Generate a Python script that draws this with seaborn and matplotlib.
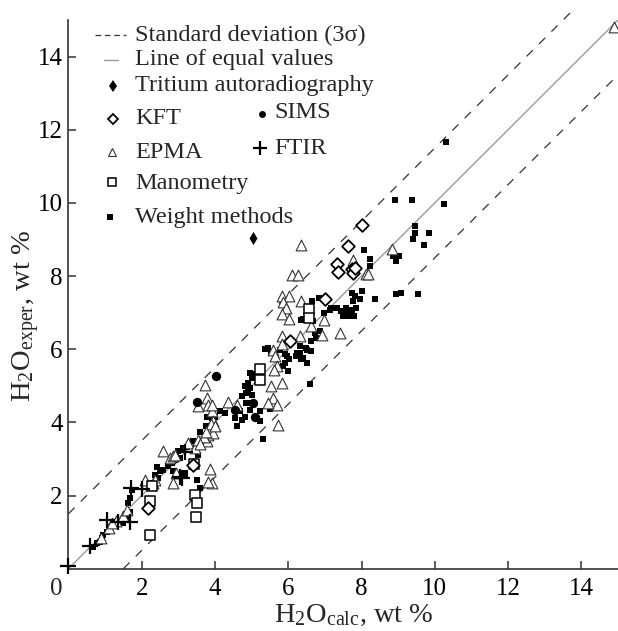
import numpy as np
import pandas as pd
import matplotlib
matplotlib.use("Agg")
import matplotlib.pyplot as plt
import seaborn as sns
from matplotlib.lines import Line2D

# ---------------- data ----------------
wm_x = [10.31, 8.91, 9.37, 10.26, 9.45, 9.45, 9.84, 9.41, 9.71, 8.06, 8.22, 8.24, 8.86, 9.02, 8.95,
        8.95, 9.09, 9.53, 8.38, 7.73, 7.82, 8.0, 7.97, 7.77, 7.84, 7.73, 7.79, 7.71,
        7.18, 7.32, 7.45, 7.59, 7.50, 7.68, 7.63, 6.66, 6.83, 6.39, 6.98, 7.13, 6.36, 6.50, 6.68, 7.54,
        6.73, 6.77, 6.63, 6.48, 6.32, 6.41, 6.21, 5.97, 5.91, 6.03, 5.86, 6.52, 5.98, 6.59, 5.45, 5.54,
        5.77, 5.91, 6.23, 6.32, 6.50, 6.86, 6.36, 6.63, 5.68,
        4.73, 4.86, 5.0, 4.86, 4.68, 4.82, 4.95, 4.54, 5.23, 5.50, 5.68, 4.73, 4.13, 4.27, 4.0, 3.91,
        3.77, 5.0, 5.23, 5.32, 4.59, 4.91, 5.0, 5.09, 4.95, 4.95, 4.82, 4.91, 5.36,
        2.41, 2.50, 2.36, 2.45, 2.32, 1.73, 1.68, 1.63, 1.68, 1.63, 1.59, 1.50, 1.13, 1.04, 0.95, 0.91,
        0.86, 0.77, 0.68, 2.59, 2.72, 2.82, 2.91, 2.95, 3.04, 3.0, 3.13, 3.23, 3.54, 3.50, 3.59, 3.18,
        2.86, 3.40, 3.60, 3.75]
wm_y = [11.66, 10.07, 10.07, 9.97, 9.37, 9.18, 9.18, 9.0, 8.86, 8.72, 8.46, 8.27, 8.55, 8.55, 8.42,
        7.52, 7.54, 7.50, 7.36, 7.54, 7.45, 7.59, 7.38, 7.32, 7.12, 7.07, 6.92, 6.90,
        7.13, 7.13, 7.04, 7.13, 6.92, 7.04, 6.90, 7.32, 7.41, 6.83, 7.0, 7.08, 6.81, 6.92, 6.77, 6.95,
        6.45, 6.31, 6.22, 6.04, 5.90, 5.76, 5.82, 5.81, 5.63, 5.72, 5.53, 5.63, 5.40, 5.06, 6.04, 5.90,
        5.99, 5.87, 5.90, 6.08, 5.99, 6.49, 5.72, 5.95, 5.49,
        4.71, 4.80, 4.76, 4.53, 4.30, 4.16, 4.34, 4.12, 4.30, 4.37, 4.39, 4.07, 4.30, 4.26, 4.16, 4.12,
        4.16, 4.53, 4.03, 3.55, 3.91, 5.08, 5.22, 5.31, 5.35, 4.94, 4.99, 4.85, 6.01,
        2.79, 2.66, 2.57, 2.48, 2.34, 2.16, 1.93, 1.79, 1.56, 1.47, 1.33, 1.24, 1.15, 1.01, 0.92, 0.83,
        0.74, 0.70, 0.60, 2.71, 2.80, 2.89, 2.98, 3.12, 3.02, 3.21, 3.30, 3.34, 3.12, 2.43, 2.20, 2.61,
        2.66, 3.50, 3.75, 3.90]

ep_x = [14.9, 6.35, 6.09, 6.27, 5.82, 6.02, 5.86, 5.93, 5.82, 6.02, 6.36, 6.97, 7.41, 7.77, 8.11, 8.82, 8.18,
        6.63, 6.91, 5.82, 5.84, 5.59, 5.63, 5.70, 5.61, 5.82, 5.54, 6.32,
        3.73, 3.77, 3.81, 4.36, 4.59, 5.59, 5.68, 5.45, 5.72, 3.91, 3.95, 3.54, 3.91,
        3.27, 3.45, 3.54, 2.59, 2.77, 2.86, 3.86, 2.09, 2.32, 2.86, 3.91, 3.82, 2.91, 2.95, 2.36,
        3.77, 3.82, 3.86, 3.90, 3.70, 3.60, 3.95, 3.75, 4.00,
        0.90, 1.10, 1.30, 1.50, 1.60, 1.20]
ep_y = [14.8, 8.84, 8.02, 8.02, 7.45, 7.45, 7.29, 7.13, 6.95, 6.83, 7.33, 6.81, 6.45, 8.43, 8.05, 8.75, 8.05,
        6.63, 6.38, 6.36, 6.13, 5.99, 5.81, 5.53, 5.44, 5.08, 4.99, 6.36,
        5.03, 4.67, 4.48, 4.57, 4.48, 4.67, 4.48, 4.53, 3.94, 4.30, 4.03, 4.44, 4.48,
        3.44, 3.30, 3.53, 3.21, 3.02, 3.07, 2.72, 2.43, 2.34, 2.34, 2.34, 2.38, 3.11, 2.61, 2.43,
        3.50, 3.65, 3.80, 3.95, 3.60, 3.40, 3.70, 3.75, 3.90,
        0.85, 1.10, 1.30, 1.45, 1.60, 1.25]

kft_x = [8.0, 7.63, 7.32, 7.36, 7.73, 7.77, 7.82, 7.0, 2.18, 3.41, 6.04]
kft_y = [9.39, 8.82, 8.32, 8.11, 8.18, 8.09, 8.23, 7.38, 1.65, 2.84, 6.22]

man_x = [3.45, 3.50, 3.48, 2.24, 2.27, 2.23, 6.57, 6.57, 5.23, 5.23, 3.43]
man_y = [2.02, 1.79, 1.40, 0.92, 2.25, 1.84, 7.11, 6.86, 5.47, 5.15, 2.86]

sims_x = [4.02, 3.52, 5.09, 5.04, 4.54]
sims_y = [5.26, 4.55, 4.16, 4.53, 4.35]

ftir_x = [0.0, 0.59, 1.04, 1.36, 1.68, 1.71, 2.0, 3.09, 3.18, 3.04]
ftir_y = [0.07, 0.62, 1.33, 1.29, 1.29, 2.20, 2.18, 2.48, 3.20, 2.52]

trit_x = [5.04]
trit_y = [9.03]

sigma3 = 1.5
axis_max = 15
x_ticks = [2, 4, 6, 8, 10, 12, 14]
y_ticks = [2, 4, 6, 8, 10, 12, 14]

# ---------------- style ----------------
sns.set_style("ticks")
plt.rcParams["font.family"] = ["Liberation Serif", "DejaVu Serif"]
plt.rcParams["mathtext.fontset"] = "custom"
plt.rcParams["mathtext.rm"] = "Liberation Serif"
plt.rcParams["mathtext.it"] = "Liberation Serif:italic"

W, H = 618, 631
fig = plt.figure(figsize=(W / 100, H / 100), dpi=100)
ax = fig.add_axes([68.4 / W, 1 - 568.7 / H, (W - 68.4) / W, (568.7 - 20) / H])

# reference lines
ax.plot([0, axis_max], [0, axis_max], color="#9a9a9a", lw=1.0, zorder=1)
ax.plot([0, axis_max - sigma3 + 0.3], [sigma3, axis_max + 0.3], color="#333333", lw=0.9,
        ls=(0, (7, 7)), zorder=1, clip_on=False)
ax.plot([sigma3, axis_max], [0, axis_max - sigma3], color="#333333", lw=0.9,
        ls=(0, (7, 7)), zorder=1)

# scatter groups
sns.scatterplot(data=pd.DataFrame({"x": wm_x, "y": wm_y}), x="x", y="y", ax=ax,
                marker="s", s=24, color="black", linewidth=0, zorder=3)
sns.scatterplot(data=pd.DataFrame({"x": ep_x, "y": ep_y}), x="x", y="y", ax=ax,
                marker="^", s=60, facecolor="white", edgecolor="#333333", linewidth=0.8, zorder=4,
                clip_on=False)
sns.scatterplot(data=pd.DataFrame({"x": man_x, "y": man_y}), x="x", y="y", ax=ax,
                marker="s", s=50, facecolor="white", edgecolor="black", linewidth=1.1, zorder=5)
sns.scatterplot(data=pd.DataFrame({"x": kft_x, "y": kft_y}), x="x", y="y", ax=ax,
                marker="D", s=42, facecolor="white", edgecolor="black", linewidth=1.3, zorder=5)
sns.scatterplot(data=pd.DataFrame({"x": sims_x, "y": sims_y}), x="x", y="y", ax=ax,
                marker="o", s=45, color="black", linewidth=0, zorder=6)
sns.scatterplot(data=pd.DataFrame({"x": ftir_x, "y": ftir_y}), x="x", y="y", ax=ax,
                marker="+", s=140, color="black", linewidth=1.6, zorder=6, clip_on=False)
sns.scatterplot(data=pd.DataFrame({"x": trit_x, "y": trit_y}), x="x", y="y", ax=ax,
                marker="d", s=45, color="black", linewidth=0, zorder=6)

ax.set_xlim(0, axis_max)
ax.set_ylim(0, axis_max)
ax.set_xticks(x_ticks)
ax.set_yticks(y_ticks)
ax.tick_params(axis="both", direction="in", length=6, width=1.1, color="#333333",
               labelsize=18, labelcolor="black")
ax.tick_params(axis="x", pad=7)
ax.tick_params(axis="y", pad=4)
for side in ["top", "right"]:
    ax.spines[side].set_visible(False)
for side in ["left", "bottom"]:
    ax.spines[side].set_color("#333333")
    ax.spines[side].set_linewidth(1.2)

ax.set_xlabel(r"H$_2$O$_{\mathrm{calc}}$, wt %", fontsize=20.5)
ax.set_ylabel(r"H$_2$O$_{\mathrm{exper}}$, wt %", fontsize=20.5)
ax.xaxis.set_label_coords(0.52, -0.086)
ax.xaxis.label.set_verticalalignment("center")
ax.yaxis.set_label_coords(-0.076, 0.46)
ax.yaxis.label.set_verticalalignment("center")

def fx(px):
    return px / W

def fy(py):
    return 1 - py / H

fig.text(fx(56), fy(589), "0", fontsize=18, ha="center", va="center")

# ---------------- legend (manual) ----------------
fs = 17.5
tx = 135
fig.add_artist(Line2D([fx(95), fx(126)], [fy(35), fy(35)], transform=fig.transFigure,
                      color="#333333", lw=0.9, ls=(0, (4.5, 3))))
fig.text(fx(tx), fy(35), "Standard deviation (3σ)", fontsize=fs, va="center")
fig.add_artist(Line2D([fx(104), fx(118)], [fy(60), fy(60)], transform=fig.transFigure,
                      color="#9a9a9a", lw=1.0))
fig.text(fx(tx), fy(60), "Line of equal values", fontsize=fs, va="center")

def lmark(px, py, **kw):
    fig.add_artist(Line2D([fx(px)], [fy(py)], transform=fig.transFigure, ls="none", **kw))

lmark(113, 86, marker="d", ms=6, color="black", mew=0)
fig.text(fx(tx), fy(85), "Tritium autoradiography", fontsize=fs, va="center")
lmark(113, 119, marker="D", ms=5, mfc="white", mec="black", mew=1.3)
fig.text(fx(tx), fy(118), "KFT", fontsize=fs, va="center")
lmark(112, 152, marker="^", ms=6, mfc="white", mec="#333333", mew=0.8)
fig.text(fx(tx), fy(152), "EPMA", fontsize=fs, va="center")
lmark(112, 182, marker="s", ms=5.5, mfc="white", mec="black", mew=1.1)
fig.text(fx(tx), fy(183), "Manometry", fontsize=fs, va="center")
lmark(110, 217, marker="s", ms=4.5, color="black", mew=0)
fig.text(fx(tx), fy(217), "Weight methods", fontsize=fs, va="center")
lmark(262, 114, marker="o", ms=5, color="black", mew=0)
fig.text(fx(274), fy(113), "SIMS", fontsize=fs, va="center")
lmark(260, 148, marker="+", ms=10, color="black", mew=1.6)
fig.text(fx(274), fy(149), "FTIR", fontsize=fs, va="center")

fig.savefig("out.png", dpi=100)
